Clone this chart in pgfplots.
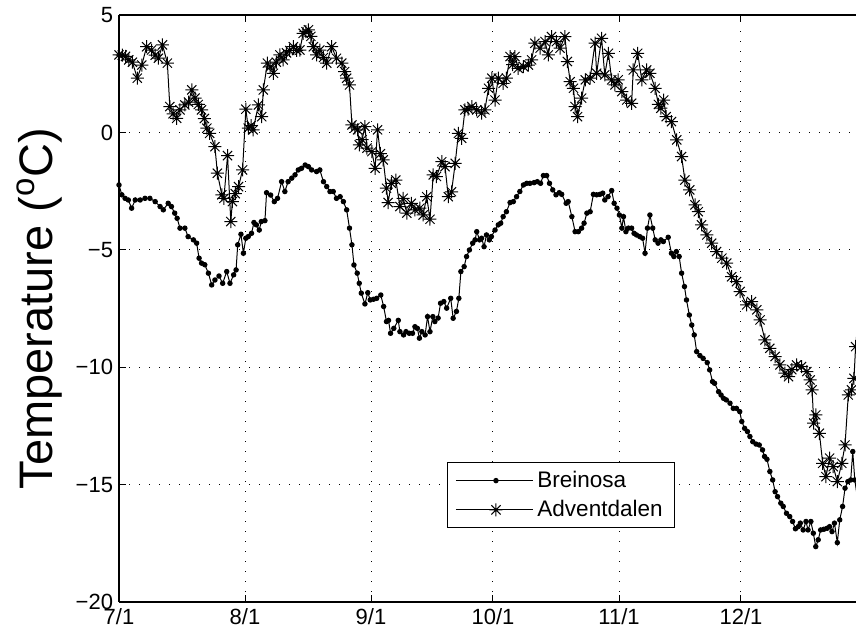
\documentclass[border=0pt]{standalone}
\usepackage{fontspec}
\setmainfont{Liberation Sans}
\usepackage{pgfplots}
\pgfplotsset{compat=1.18}
\pgfdeclareplotmark{mstar}{%
  \pgfpathmoveto{\pgfqpoint{-\pgfplotmarksize}{0pt}}%
  \pgfpathlineto{\pgfqpoint{\pgfplotmarksize}{0pt}}%
  \pgfpathmoveto{\pgfqpoint{0pt}{-\pgfplotmarksize}}%
  \pgfpathlineto{\pgfqpoint{0pt}{\pgfplotmarksize}}%
  \pgfpathmoveto{\pgfqpoint{-0.707\pgfplotmarksize}{-0.707\pgfplotmarksize}}%
  \pgfpathlineto{\pgfqpoint{0.707\pgfplotmarksize}{0.707\pgfplotmarksize}}%
  \pgfpathmoveto{\pgfqpoint{-0.707\pgfplotmarksize}{0.707\pgfplotmarksize}}%
  \pgfpathlineto{\pgfqpoint{0.707\pgfplotmarksize}{-0.707\pgfplotmarksize}}%
  \pgfusepathqstroke}
\pgfplotsset{every non boxed y axis/.style={}}
\begin{document}
\begin{tikzpicture}
\begin{axis}[
  scale only axis, width=368.5pt, height=293.35pt,
  xmin=0, xmax=181.3, ymin=-20, ymax=5,
  axis x line=box, axis y line=left,
  y axis line style={-},
  axis line style={line width=0.8pt},
  tick align=inside, major tick length=3.5pt,
  tick style={black, line width=0.5pt},
  xtick={0,31,62,92,123,153}, xticklabels={7/1,8/1,9/1,10/1,11/1,12/1},
  ytick={-20,-15,-10,-5,0,5}, yticklabels={−20,−15,−10,−5,0,5},
  ticklabel style={font=\fontsize{11}{13}\selectfont},
  yticklabel style={inner xsep=2.8pt},
  grid=major, grid style={black, line width=0.5pt, dash pattern=on 0.6pt off 4.4pt},
  ylabel={Temperature (\textsuperscript{o}C)},
  ylabel style={at={(axis description cs:-0.07598,0.5)}, anchor=south, inner sep=0pt, font=\fontsize{23.5}{28}\selectfont},
  legend style={at={(0.7545,0.126)}, anchor=south east, draw=black, line width=0.5pt,
    font=\fontsize{11.25}{13}\selectfont, cells={anchor=west}, inner xsep=4pt, inner ysep=1.5pt,
    nodes={inner xsep=2pt, inner ysep=2.5pt}},
  legend image code/.code={\path (0pt,0pt) -- (38.5pt,0pt);
    \draw[mark repeat=2,mark phase=2] plot coordinates {(3pt,0pt)(20pt,0pt)(37pt,0pt)};},
]
\coordinate (bl) at (rel axis cs:0,0);
\coordinate (tr) at (rel axis cs:1,1);
\addplot[black, line width=0.5pt, mark=*, mark size=1.1pt] table {
x y
0 -2.23
0.7 -2.65
1.5 -2.8
2.3 -2.87
3.1 -3.22
4.0 -2.87
5.2 -2.87
6.4 -2.8
7.6 -2.8
8.9 -2.94
10.1 -3.15
10.9 -3.29
12.1 -3.01
12.9 -3.15
13.7 -3.43
14.3 -3.65
15.0 -4.07
16.2 -4.07
17.0 -4.43
18.3 -4.57
19.1 -4.71
19.7 -5.35
20.3 -5.56
21.1 -5.63
22.0 -5.99
22.8 -6.49
23.6 -6.28
24.6 -6.11
25.5 -6.42
26.5 -5.92
27.3 -6.42
28.2 -6.06
28.8 -5.85
29.2 -4.78
30.0 -4.33
30.6 -5.14
31.2 -4.5
31.8 -4.43
32.6 -4.29
33.2 -3.83
33.8 -3.93
34.5 -4.15
35.0 -3.79
35.9 -3.75
36.3 -2.56
37.3 -2.66
38.2 -2.94
39.0 -2.8
40.0 -2.09
40.8 -2.51
41.6 -2.09
42.5 -1.94
43.3 -1.8
44.1 -1.59
44.9 -1.52
45.8 -1.38
46.6 -1.45
47.4 -1.59
48.6 -1.66
49.4 -1.59
50.3 -2.09
51.1 -2.3
51.9 -2.51
52.7 -2.51
53.5 -2.8
54.4 -2.73
55.2 -2.94
56.0 -3.29
56.7 -4.07
57.3 -4.78
57.8 -5.64
58.6 -5.99
59.1 -6.42
59.6 -6.84
60.5 -7.3
61.2 -6.82
61.8 -7.13
62.6 -7.1
63.4 -7.06
64.4 -6.92
65.1 -7.41
65.8 -8.05
66.3 -8.0
66.8 -8.55
67.6 -8.34
68.7 -8.0
69.1 -8.48
70.0 -8.62
70.6 -8.48
71.4 -8.55
72.2 -8.55
72.8 -8.27
73.4 -8.34
73.9 -8.76
74.5 -8.48
75.3 -8.62
75.9 -7.84
76.5 -8.48
77.2 -7.84
77.7 -8.05
78.5 -7.9
79.1 -7.27
79.9 -7.2
80.6 -7.48
81.6 -7.06
82.2 -7.91
83.0 -7.62
83.6 -7.06
84.1 -5.92
84.9 -5.71
85.5 -5.28
86.2 -5.0
87.0 -4.71
87.6 -4.57
88.0 -4.22
88.7 -4.57
89.2 -4.5
89.8 -4.86
90.4 -4.36
91.1 -4.57
91.6 -4.43
92.5 -4.15
93.3 -3.93
93.9 -3.86
94.5 -3.58
95.3 -3.37
96.2 -2.98
97.0 -2.94
97.8 -2.73
98.6 -2.51
99.5 -2.23
100.3 -2.16
101.1 -2.16
102.1 -2.13
102.9 -2.09
103.7 -2.16
104.4 -1.83
105.2 -1.83
105.9 -2.16
106.7 -2.44
107.5 -2.65
108.3 -2.56
108.9 -2.63
110.0 -3.01
110.5 -2.94
111.4 -3.58
112.2 -4.22
113.0 -4.22
113.8 -4.07
114.4 -3.86
115.1 -3.43
115.9 -3.37
116.7 -2.63
117.5 -2.65
118.3 -2.63
119.0 -2.58
119.5 -2.87
120.3 -2.73
121.2 -2.47
121.8 -3.01
122.5 -3.22
123.1 -3.51
123.7 -4.07
124.1 -3.58
124.7 -4.22
125.3 -4.07
126.1 -4.07
126.7 -4.29
127.3 -4.36
128.1 -4.43
128.8 -4.5
129.4 -5.14
130.0 -4.07
130.6 -3.51
131.3 -4.07
131.9 -4.57
132.6 -4.71
133.3 -4.57
133.9 -4.64
135.1 -4.46
135.9 -5.14
136.5 -5.28
137.1 -5.07
137.8 -5.28
138.4 -5.99
139.1 -6.56
139.6 -7.13
140.3 -7.77
140.9 -8.2
141.5 -8.62
142.1 -9.33
142.9 -9.5
143.7 -9.62
144.7 -9.8
145.3 -10.11
146.0 -10.61
146.5 -10.68
147.5 -11.04
148.1 -11.18
148.7 -11.32
149.4 -11.39
150.3 -11.53
151.1 -11.75
151.9 -11.75
152.7 -11.89
153.2 -12.31
153.9 -12.6
154.6 -12.74
155.2 -12.95
155.9 -13.17
156.7 -13.27
157.5 -13.31
158.3 -13.52
158.8 -13.8
159.4 -13.92
160.1 -14.44
160.8 -14.8
161.4 -15.3
162.0 -15.51
162.8 -15.79
163.4 -15.93
164.2 -16.22
165.0 -16.36
165.7 -16.57
166.4 -16.88
167.1 -16.79
167.6 -16.64
168.3 -16.93
169.0 -16.57
169.5 -16.93
170.2 -16.57
170.8 -17.07
171.4 -17.64
172.0 -17.35
172.6 -16.93
173.4 -16.9
174.2 -16.86
174.8 -16.79
175.4 -17.0
176.0 -16.64
176.7 -17.47
177.3 -16.5
178.0 -15.93
178.6 -15.15
179.3 -14.87
180.0 -14.8
180.5 -13.59
181.0 -14.8
181.6 -15.5
};
\addplot[black, line width=0.5pt, mark=mstar, mark size=3.25pt] table {
x y
0 3.31
0.8 3.3
1.6 3.25
2.4 3.1
3.3 3.0
4.5 2.32
5.6 2.88
6.8 3.66
8.0 3.52
8.9 3.3
9.7 3.17
10.7 3.74
11.9 2.96
12.5 1.11
13.3 0.8
14.2 0.61
15.0 0.97
16.2 1.18
17.1 1.3
17.9 1.82
18.7 1.47
19.5 1.2
20.3 0.97
21.0 0.6
21.6 0.19
22.3 -0.03
23.6 -0.6
24.2 -1.73
25.3 -2.65
25.8 -2.8
26.7 -0.98
27.5 -3.79
27.9 -2.94
28.6 -2.6
29.4 -2.3
30.4 -1.59
31.2 1.0
31.8 0.19
32.5 0.3
33.0 0.12
34.3 1.18
35.1 0.68
35.5 1.82
36.5 2.96
37.2 2.8
38.0 2.53
38.7 3.0
39.6 3.31
40.4 3.1
41.2 3.4
42.0 3.5
42.9 3.66
43.7 3.5
44.5 3.52
45.3 4.23
46.0 4.3
46.6 4.38
47.2 4.1
47.8 3.66
48.6 3.31
49.4 3.52
50.3 3.2
51.1 2.96
52.3 3.66
53.5 3.17
54.8 2.96
55.5 2.6
56.0 2.32
56.7 2.03
57.3 0.33
58.0 0.2
58.7 0.12
59.1 -0.52
59.8 -0.3
60.5 0.26
61.0 -0.66
62.2 -0.81
63.0 -1.52
63.6 0.12
64.3 -0.9
65.0 -1.16
65.8 -2.37
66.2 -2.98
67.0 -2.16
68.1 -2.02
69.1 -3.15
69.9 -2.8
70.8 -3.43
71.9 -3.01
72.8 -3.29
74.0 -3.22
74.8 -3.51
75.7 -2.73
76.5 -3.69
77.3 -1.8
78.1 -1.87
79.4 -1.24
80.2 -1.45
81.0 -2.73
81.8 -2.52
82.7 -1.31
83.5 -0.03
84.3 -0.24
85.1 0.97
85.9 1.0
86.8 1.11
88.0 0.97
89.2 0.83
90.0 0.97
90.9 1.89
91.7 2.32
92.5 1.39
93.3 2.32
94.5 2.1
95.3 2.32
96.2 3.24
96.8 2.9
97.4 3.24
98.2 2.74
99.5 2.81
100.7 2.88
101.5 3.1
102.3 3.81
103.6 3.6
104.8 3.88
105.6 3.31
106.4 4.09
107.6 3.88
108.5 3.6
109.7 4.09
110.3 3.03
111.0 2.17
111.8 1.89
112.2 1.11
112.8 0.68
113.8 1.47
114.7 2.25
115.9 2.32
117.1 3.81
117.5 2.53
118.7 4.02
119.5 2.46
120.4 3.38
121.2 2.25
122.0 2.03
122.8 2.25
123.7 1.75
124.9 1.39
126.1 1.25
126.5 2.67
127.6 3.38
128.6 2.25
129.8 2.67
130.6 2.53
131.9 1.89
132.7 1.2
133.3 1.04
134.0 1.39
134.6 0.68
135.9 0.47
137.2 -0.31
138.4 -1.02
139.2 -2.02
140.4 -2.44
141.7 -3.08
142.5 -3.37
143.3 -3.93
144.6 -4.36
145.8 -4.71
147.0 -5.07
148.3 -5.35
149.5 -5.56
150.7 -6.14
151.9 -6.35
152.8 -6.77
154.4 -7.34
155.6 -7.2
156.9 -7.55
157.7 -7.98
158.9 -8.83
160.1 -9.19
161.4 -9.54
162.6 -9.9
163.8 -10.25
164.7 -10.4
165.5 -10.1
166.7 -9.9
167.9 -9.97
169.2 -10.18
170.0 -10.54
170.5 -10.96
170.9 -12.38
171.4 -12.03
172.3 -12.81
173.1 -14.09
173.9 -14.66
174.8 -13.87
175.7 -14.23
176.7 -14.87
177.8 -14.09
178.6 -13.31
179.4 -11.18
180.2 -10.96
180.8 -10.47
181.2 -9.12
181.8 -7.98
};
\legend{Breinosa, Adventdalen}
\end{axis}
\pgfresetboundingbox
\path[use as bounding box] ([xshift=-59.5pt,yshift=-15.5pt]bl) rectangle ([yshift=7.65pt]tr);
\end{tikzpicture}
\end{document}
